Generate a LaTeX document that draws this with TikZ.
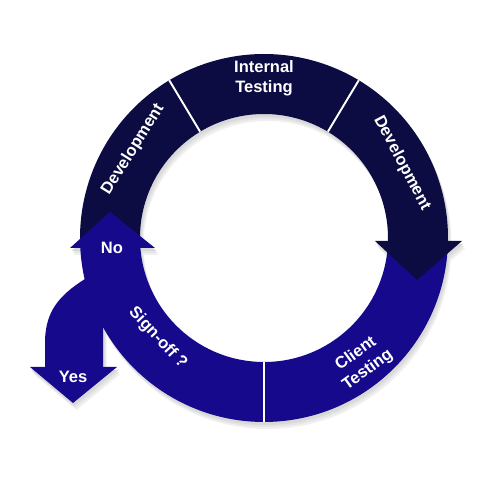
\documentclass[tikz,border=0pt]{standalone}
\usepackage{fontspec}
\setmainfont{Liberation Sans}
\definecolor{navy}{HTML}{0C0C42}
\definecolor{royal}{HTML}{16098C}
\tikzset{
  ringtext/.style={text=white, font=\bfseries\fontsize{9.4}{11.4}\selectfont, align=center, inner sep=0pt},
  divider/.style={white, line width=1.1pt},
}
\newcommand{\Rout}{184}
\newcommand{\Rin}{124}
% piece of the ring between two angles
\newcommand{\ringpiece}[2]{(#1:\Rout) arc[start angle=#1, end angle=#2, radius=\Rout] -- (#2:\Rin) arc[start angle=#2, end angle=#1, radius=\Rin] -- cycle}
% yes branch and the three arrow heads
\newcommand{\yesband}{(-219,-129) -- (-219,-102) .. controls (-218,-74) and (-206,-58) .. (-179,-41) -- (-144,-44) -- (-161,-90) -- (-161,-129) -- cycle}
\newcommand{\yeshead}{(-234,-129) -- (-147,-129) -- (-191,-165) -- cycle}
\newcommand{\nohead}{(-194,-10) -- (-109,-10) -- (-154,26) -- cycle}
\newcommand{\devhead}{(111,-3) -- (198,-3) -- (153,-42) -- cycle}

\begin{document}
\begin{tikzpicture}[x=0.02cm, y=0.02cm]
  \useasboundingbox (0,0) rectangle (500,482);
  % soft shadow
  \foreach \d/\c in {7/6, 5/10, 3/15} {
    \begin{scope}[shift={(264+\d*0.5,244-\d)}]
      \fill[black!\c] \ringpiece{-179.5}{180.5};
      \fill[black!\c] \yesband;
      \fill[black!\c] \yeshead;
      \fill[black!\c] \nohead;
      \fill[black!\c] \devhead;
    \end{scope}
  }
  \begin{scope}[shift={(264,244)}]
    % ring
    \fill[royal] \ringpiece{-179.5}{-1.5};
    \fill[navy] \ringpiece{-1.5}{180.5};
    % branches
    \fill[royal] \yesband;
    \fill[royal] \yeshead;
    \fill[royal] \nohead;
    \fill[navy] \devhead;
    % dividers
    \draw[divider] (121:\Rin) -- (121:\Rout);
    \draw[divider] (59:\Rin) -- (59:\Rout);
    \draw[divider] (270:\Rin) -- (270:\Rout);
    % labels
    \node[ringtext] (internal) at (90:160) {Internal\\Testing};
    \node[ringtext, rotate=58] (devleft) at (146:158) {Development};
    \node[ringtext, rotate=-62] (devright) at (28.5:157) {Development};
    \node[ringtext, rotate=36] (client) at (-51.7:158) {Client\\Testing};
    \node[ringtext, rotate=-47] (signoff) at (223.3:146) {Sign-off ?};
    \node[ringtext] (no) at (-152,-10) {No};
    \node[ringtext] (yes) at (-191,-139) {Yes};
  \end{scope}
\end{tikzpicture}
\end{document}
